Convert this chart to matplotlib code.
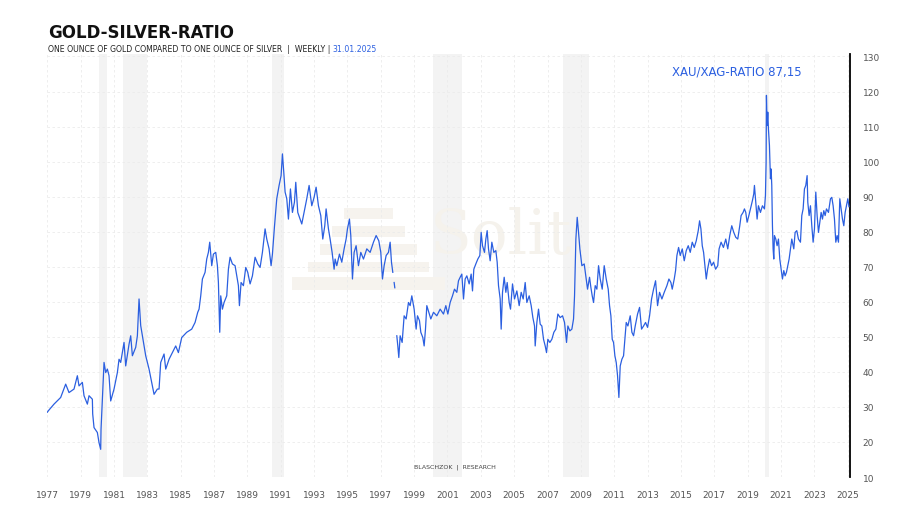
import numpy as np
import matplotlib
matplotlib.use("Agg")
import matplotlib.pyplot as plt
from matplotlib.patches import Rectangle

# weekly gold/silver ratio (year as decimal)
year = [1977.0, 1977.06, 1977.4, 1977.8, 1978.1, 1978.3, 1978.6, 1978.8, 1978.9, 1979.1, 1979.2, 1979.4,
        1979.5, 1979.7, 1979.72, 1979.8, 1980.0, 1980.1, 1980.2, 1980.22, 1980.4, 1980.5, 1980.6, 1980.7,
        1980.8, 1981.0, 1981.2, 1981.3, 1981.4, 1981.6, 1981.7, 1981.9, 1982.0, 1982.1, 1982.3, 1982.4,
        1982.5, 1982.6, 1982.7, 1982.9, 1983.1, 1983.3, 1983.4, 1983.6, 1983.7, 1983.8, 1984.0, 1984.1,
        1984.3, 1984.5, 1984.7, 1984.86, 1985.06, 1985.36, 1985.66, 1985.86, 1986.02, 1986.1, 1986.2,
        1986.3, 1986.46, 1986.56, 1986.66, 1986.74, 1986.86, 1986.96, 1987.1, 1987.2, 1987.26, 1987.34,
        1987.4, 1987.5, 1987.6, 1987.76, 1987.86, 1987.96, 1988.1, 1988.26, 1988.36, 1988.46, 1988.52,
        1988.62, 1988.76, 1988.9, 1989.02, 1989.16, 1989.3, 1989.46, 1989.62, 1989.76, 1989.9, 1990.06,
        1990.16, 1990.3, 1990.42, 1990.5, 1990.62, 1990.76, 1990.9, 1991.02, 1991.1, 1991.18, 1991.26,
        1991.36, 1991.46, 1991.58, 1991.7, 1991.82, 1991.9, 1992.02, 1992.16, 1992.26, 1992.42, 1992.56,
        1992.7, 1992.86, 1993.0, 1993.12, 1993.26, 1993.4, 1993.52, 1993.64, 1993.72, 1993.86, 1993.96,
        1994.08, 1994.2, 1994.26, 1994.36, 1994.52, 1994.66, 1994.8, 1994.92, 1995.0, 1995.12, 1995.2,
        1995.3, 1995.4, 1995.52, 1995.66, 1995.8, 1995.96, 1996.16, 1996.36, 1996.56, 1996.72, 1996.88,
        1997.0, 1997.1, 1997.2, 1997.32, 1997.46, 1997.56, 1997.64, 1997.72, 1997.76, 1997.8, 1997.84,
        1997.88, 1997.96, 1998.02, 1998.08, 1998.16, 1998.28, 1998.4, 1998.52, 1998.66, 1998.76, 1998.86,
        1999.0, 1999.12, 1999.2, 1999.32, 1999.4, 1999.52, 1999.6, 1999.68, 1999.76, 1999.88, 2000.0,
        2000.16, 2000.36, 2000.56, 2000.76, 2000.9, 2001.02, 2001.16, 2001.3, 2001.42, 2001.56, 2001.66,
        2001.76, 2001.86, 2001.96, 2002.06, 2002.16, 2002.3, 2002.42, 2002.5, 2002.58, 2002.7, 2002.82,
        2002.94, 2003.02, 2003.1, 2003.22, 2003.3, 2003.38, 2003.46, 2003.56, 2003.66, 2003.78, 2003.9,
        2003.98, 2004.06, 2004.16, 2004.22, 2004.3, 2004.4, 2004.5, 2004.58, 2004.7, 2004.78, 2004.9,
        2005.02, 2005.16, 2005.3, 2005.42, 2005.54, 2005.66, 2005.76, 2005.9, 2006.02, 2006.12, 2006.22,
        2006.26, 2006.36, 2006.46, 2006.56, 2006.66, 2006.76, 2006.86, 2006.94, 2007.02, 2007.14, 2007.26,
        2007.38, 2007.5, 2007.62, 2007.76, 2007.9, 2008.02, 2008.14, 2008.22, 2008.34, 2008.46, 2008.56,
        2008.62, 2008.7, 2008.78, 2008.86, 2008.94, 2009.06, 2009.2, 2009.32, 2009.4, 2009.52, 2009.6,
        2009.68, 2009.76, 2009.86, 2009.96, 2010.06, 2010.16, 2010.28, 2010.4, 2010.52, 2010.64, 2010.72,
        2010.8, 2010.88, 2010.96, 2011.04, 2011.12, 2011.2, 2011.28, 2011.36, 2011.46, 2011.56, 2011.64,
        2011.72, 2011.82, 2011.96, 2012.06, 2012.16, 2012.26, 2012.4, 2012.52, 2012.64, 2012.76, 2012.88,
        2013.0, 2013.12, 2013.24, 2013.36, 2013.48, 2013.6, 2013.72, 2013.86, 2014.0, 2014.16, 2014.28,
        2014.4, 2014.48, 2014.6, 2014.68, 2014.76, 2014.86, 2014.96, 2015.08, 2015.2, 2015.32, 2015.44,
        2015.56, 2015.68, 2015.8, 2015.92, 2016.04, 2016.12, 2016.2, 2016.28, 2016.36, 2016.44, 2016.52,
        2016.6, 2016.72, 2016.84, 2016.96, 2017.08, 2017.21, 2017.29, 2017.41, 2017.55, 2017.69, 2017.81,
        2017.93, 2018.05, 2018.17, 2018.29, 2018.41, 2018.53, 2018.61, 2018.73, 2018.81, 2018.89, 2018.97,
        2019.05, 2019.17, 2019.29, 2019.37, 2019.41, 2019.49, 2019.57, 2019.65, 2019.77, 2019.89, 2020.01,
        2020.07, 2020.11, 2020.13, 2020.17, 2020.21, 2020.25, 2020.31, 2020.37, 2020.41, 2020.45, 2020.49,
        2020.53, 2020.57, 2020.61, 2020.69, 2020.77, 2020.85, 2020.93, 2021.01, 2021.09, 2021.17, 2021.25,
        2021.33, 2021.41, 2021.49, 2021.57, 2021.65, 2021.77, 2021.85, 2021.95, 2022.05, 2022.17, 2022.25,
        2022.33, 2022.41, 2022.49, 2022.57, 2022.61, 2022.69, 2022.77, 2022.85, 2022.93, 2023.01, 2023.09,
        2023.17, 2023.25, 2023.33, 2023.41, 2023.49, 2023.57, 2023.65, 2023.73, 2023.85, 2023.97, 2024.05,
        2024.13, 2024.21, 2024.29, 2024.37, 2024.45, 2024.53, 2024.61, 2024.69, 2024.77, 2024.85, 2024.93,
        2025.01, 2025.08]
ratio = [28.5, 28.9, 30.8, 32.7, 36.5, 34.1, 35.1, 38.9, 36.0, 37.0, 33.2, 30.8,
         33.2, 32.2, 28.0, 24.1, 22.7, 19.8, 17.9, 23.6, 42.7, 39.8, 40.8, 38.9,
         31.7, 35.1, 39.8, 43.6, 42.7, 48.4, 41.7, 47.9, 50.3, 44.6, 47.0, 50.3,
         60.8, 53.2, 50.3, 44.6, 40.8, 36.0, 33.6, 35.1, 35.1, 42.7, 45.1, 40.8,
         43.6, 45.5, 47.4, 45.5, 49.8, 51.3, 52.2, 54.1, 57.0, 57.9, 61.7,
         66.5, 68.4, 72.2, 74.1, 77.0, 70.3, 73.6, 74.1, 70.3, 65.5, 51.3,
         61.7, 57.9, 59.8, 61.7, 69.3, 72.7, 70.8, 70.3, 67.4, 64.6, 58.9,
         65.5, 64.6, 69.8, 68.4, 65.1, 67.4, 72.7, 70.8, 69.8, 74.1, 80.8,
         77.9, 75.1, 70.3, 73.6, 81.3, 89.4, 93.2, 96.0, 102.2, 97.0, 91.3,
         89.4, 83.6, 92.2, 85.5, 88.4, 94.1, 85.5, 83.6, 82.2, 86.0, 89.4,
         93.2, 87.4, 89.8, 92.7, 87.4, 84.6, 77.9, 81.7, 86.5, 80.8, 77.9,
         74.1, 69.3, 72.2, 70.3, 73.6, 71.3, 75.1, 77.9, 80.8, 83.6, 78.9,
         66.5, 74.1, 76.0, 70.3, 74.1, 72.2, 75.1, 74.1, 77.0, 78.9, 77.4,
         74.1, 66.5, 70.3, 73.2, 74.1, 77.0, 71.3, 68.4, np.nan, 65.5, 64.0,
         np.nan, 50.3, 47.4, 44.1, 50.3, 48.4, 56.0, 55.1, 59.8, 58.9, 61.7,
         57.9, 52.2, 56.0, 54.6, 51.3, 49.8, 47.4, 52.2, 58.9, 57.0, 55.1,
         57.0, 56.0, 57.9, 56.5, 58.9, 56.5, 59.8, 61.7, 63.6, 62.7, 66.0,
         67.0, 67.9, 60.8, 66.5, 67.4, 65.1, 67.9, 63.1, 69.3, 70.8, 72.2,
         73.2, 79.8, 76.0, 74.1, 77.9, 80.3, 75.1, 71.7, 77.0, 74.1, 74.6,
         71.3, 64.6, 60.8, 52.2, 62.7, 67.0, 62.7, 65.5, 59.8, 57.9, 65.1,
         60.8, 63.1, 58.9, 62.7, 60.8, 65.5, 59.8, 61.7, 58.9, 55.5, 53.1,
         47.4, 54.1, 57.9, 53.6, 53.1, 49.3, 47.4, 45.5, 49.3, 48.4, 49.3,
         51.3, 52.2, 56.5, 55.5, 56.0, 54.1, 48.4, 53.1, 51.7, 52.2, 55.1,
         61.7, 77.9, 84.1, 79.8, 75.1, 70.3, 70.8, 66.5, 63.6, 67.0, 64.1,
         61.7, 59.8, 64.6, 63.6, 70.3, 66.5, 63.6, 70.3, 66.5, 63.6, 58.9,
         56.0, 49.3, 48.4, 44.6, 42.7, 38.9, 32.7, 41.7, 43.6, 44.6, 49.3,
         54.1, 53.1, 56.0, 51.3, 50.3, 53.1, 56.5, 58.4, 52.2, 53.1, 54.1,
         52.7, 56.0, 60.8, 63.6, 66.0, 58.9, 62.7, 60.8, 62.7, 64.6, 66.5,
         65.5, 63.6, 66.5, 68.9, 73.2, 75.5, 73.2, 75.1, 71.7, 74.6, 76.0,
         74.1, 77.0, 75.5, 77.4, 80.3, 83.1, 80.8, 76.0, 74.1, 70.3, 66.5,
         69.3, 72.2, 70.3, 71.3, 69.3, 70.3, 75.1, 77.0, 75.5, 77.9, 75.1,
         78.9, 81.7, 79.8, 78.4, 77.9, 81.7, 84.6, 85.5, 86.5, 85.5, 82.7,
         84.1, 86.5, 88.9, 90.8, 93.2, 88.4, 83.6, 87.4, 85.5, 87.4, 86.5,
         90.3, 99.8, 118.9, 110.3, 114.1, 109.3, 104.6, 95.1, 97.9, 93.2, 81.7,
         75.1, 72.2, 78.9, 77.9, 76.0, 77.9, 72.2, 69.3, 66.5, 68.9, 67.4,
         68.4, 70.3, 72.2, 75.1, 77.9, 75.1, 79.8, 80.3, 77.9, 77.0, 84.6,
         86.5, 92.2, 93.2, 96.0, 88.4, 84.6, 87.4, 81.7, 77.0, 80.8, 91.3,
         84.6, 79.8, 82.7, 85.5, 83.6, 86.0, 84.6, 86.5, 85.5, 89.4, 89.8,
         87.4, 83.6, 77.0, 78.9, 77.0, 89.4, 86.5, 83.6, 81.7, 85.5, 87.4,
         89.4, 87.15]

# grey shaded periods (US recessions)
rec_start = [1980.08, 1981.52, 1990.5, 2000.16, 2007.9, 2020.02]
rec_end = [1980.56, 1983.0, 1991.22, 2001.86, 2009.46, 2020.3]

xticks = list(range(1977, 2026, 2))
yticks = list(range(10, 131, 10))
last_value = "87,15"

blue = "#2b5fe0"
grey_txt = "#555555"

fig = plt.figure(figsize=(9, 5.06), dpi=100)
ax = fig.add_axes([0.0526, 0.0553, 0.892, 0.836])

for s, e in zip(rec_start, rec_end):
    ax.axvspan(s, e, color="#f3f3f3", lw=0, zorder=0)

ax.plot(year, ratio, color=blue, lw=0.9, zorder=3)

ax.set_xlim(1977, 2025.15)
ax.set_ylim(10, 130.7)
ax.set_xticks(xticks)
ax.set_yticks(yticks)
ax.grid(True, color="#ebebeb", ls=(0, (3, 3)), lw=0.6, zorder=1)

for side in ["top", "left", "bottom"]:
    ax.spines[side].set_visible(False)
ax.spines["right"].set_linewidth(1.3)
ax.spines["right"].set_color("black")
ax.yaxis.tick_right()
ax.tick_params(axis="y", length=0, pad=9, labelsize=6.5, labelcolor=grey_txt)
ax.tick_params(axis="x", length=0, pad=9, labelsize=6.5, labelcolor=grey_txt)

# faint company watermark
ax.text(0.565, 0.57, "Solit", transform=ax.transAxes, fontsize=44, family="DejaVu Serif",
        color="#f5f2ec", ha="center", va="center", zorder=0.5)
steps = [(0.06, 0.025), (0.09, 0.025), (0.12, 0.025), (0.15, 0.025), (0.19, 0.03)]
for i, (w, h) in enumerate(steps):
    ax.add_patch(Rectangle((0.4 - w / 2, 0.61 - i * 0.042), w, h, transform=ax.transAxes,
                           color="#f6f3ee", lw=0, zorder=0.5))

ax.text(0.94, 0.975, "XAU/XAG-RATIO " + last_value, transform=ax.transAxes,
        ha="right", va="top", fontsize=8.5, color=blue)
ax.text(0.508, 0.02, "BLASCHZOK  |  RESEARCH", transform=ax.transAxes,
        ha="center", va="bottom", fontsize=4.5, color="#444444")

fig.text(0.053, 0.925, "GOLD-SILVER-RATIO", fontsize=12, fontweight="semibold", color="#111111")
sub = fig.text(0.053, 0.898, "ONE OUNCE OF GOLD COMPARED TO ONE OUNCE OF SILVER  |  WEEKLY | ",
               fontsize=5.6, color="#222222")
fig.canvas.draw()
bb = sub.get_window_extent()
fig.text(bb.x1 / fig.bbox.width, 0.898, "31.01.2025", fontsize=5.6, color=blue)

fig.savefig("out.png", dpi=100)
